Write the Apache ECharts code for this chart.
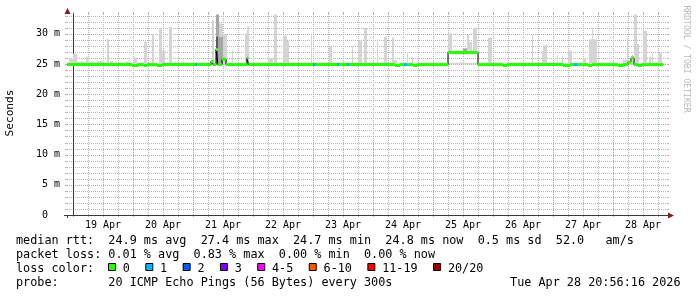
<!DOCTYPE html>
<html><head><meta charset="utf-8">
<script src="https://cdn.jsdelivr.net/npm/echarts@6/dist/echarts.min.js"></script>
<style>html,body{margin:0;padding:0;background:#fff}#c{width:697px;height:297px}</style>
</head><body><div id="c"></div>
<script>
// ---- data (x = hours since 19 Apr 00:00, y = milliseconds) ----
const dayLabels = ['19 Apr','20 Apr','21 Apr','22 Apr','23 Apr','24 Apr','25 Apr','26 Apr','27 Apr','28 Apr'];
const yTickValues = [0, 5, 10, 15, 20, 25, 30];

// median rtt, step values: [start hour, value]
const medianSteps = [
  [-2.4, 24.9],
  [23.6, 24.75], [25.6, 24.9],
  [28.4, 24.75], [29.6, 24.9],
  [33.6, 24.75], [35.6, 24.9],
  [55.2, 25.4], [56, 24.9],
  [57.2, 27.4], [58, 24.9],
  [59.6, 25.8], [61.2, 24.9],
  [69.6, 26.0], [70.2, 24.9],
  [128.8, 24.75], [130.8, 24.9],
  [136, 24.75], [137.6, 24.9],
  [150, 26.9], [162, 24.9],
  [172, 24.75], [173.6, 24.9],
  [196, 24.75], [198.8, 24.9],
  [206, 24.75], [207.6, 24.9],
  [218, 24.75], [220, 24.9],
  [222, 25.3], [223.2, 26.0], [224.4, 24.9],
  [226, 24.75], [227.6, 24.9],
  [236, 24.9]
];

// periods with 1 lost ping: [start, end, median]
const lossOneSegments = [
  [48.8, 49.6, 24.9], [96, 97.2, 24.9], [105.6, 106.4, 24.9],
  [109.6, 110.4, 24.9], [132.4, 133.6, 24.9], [200.4, 201.6, 24.9]
];

// smoke (ping spread): [start, end, low, high]
const smokeLight = [
  [-2.4, 236, 24.9, 25.2],
  [-1.6, 0, 24.9, 25.9], [0, 1.6, 24.9, 26.7], [1.6, 5.2, 24.9, 25.4], [5.2, 6.0, 24.9, 26.2],
  [6, 10, 24.9, 25.4], [10, 12, 24.9, 25.5], [13.6, 14.4, 24.9, 29.1], [14.8, 16, 24.9, 25.5],
  [20.8, 22.8, 24.9, 25.4], [24.4, 25.6, 24.9, 26.1], [28.4, 29.6, 24.9, 28.7],
  [31.6, 32.4, 24.9, 30.0], [34.4, 35.6, 24.9, 31.0], [35.6, 36.8, 24.9, 27.2],
  [38.4, 39.6, 24.9, 31.1], [43.6, 44.4, 24.9, 25.4], [55.6, 56.4, 24.9, 32.3],
  [58.4, 60, 24.9, 31.7], [60, 61.6, 24.9, 30.0], [63.6, 64, 24.9, 27.3],
  [68.8, 69.6, 24.9, 30.1], [69.6, 70.4, 24.9, 31.2], [78, 80, 24.9, 26.0],
  [80.4, 81.6, 24.9, 33.2], [84, 85.6, 24.9, 29.7], [85.6, 86.4, 24.9, 28.8],
  [95.2, 95.6, 24.9, 30.1], [102.4, 103.6, 24.9, 28.0], [111.6, 112, 24.9, 27.9],
  [114, 115.6, 24.9, 28.9], [116.4, 117.6, 24.9, 31.0], [121.6, 122, 24.9, 29.1],
  [124.4, 125.6, 24.9, 29.5], [127.6, 128.4, 24.9, 29.4], [128.4, 129.6, 24.9, 25.6],
  [133.6, 134, 24.9, 27.0], [135.6, 136, 24.9, 26.1],
  [150, 151.6, 26.9, 30.1], [150, 162, 26.9, 27.2], [157.6, 158.4, 26.9, 29.8],
  [158.4, 159.6, 26.9, 28.7], [160, 161.6, 26.9, 31.0],
  [166, 167.6, 24.9, 29.3], [183.6, 184, 24.9, 29.8], [187.6, 188, 24.9, 27.2],
  [188, 189.6, 24.9, 28.1], [193.6, 194, 24.9, 26.4], [195.6, 196, 24.9, 26.4],
  [198, 199.6, 24.9, 27.2], [204, 205.2, 24.9, 25.9], [206.4, 207.6, 24.9, 29.1],
  [207.6, 208, 24.9, 31.0], [208, 209.6, 24.9, 29.1], [211.6, 212, 24.9, 25.3],
  [220, 221.6, 24.9, 25.7], [221.6, 222, 24.9, 29.3], [223.6, 224, 24.9, 26.6],
  [224.4, 225.6, 24.9, 33.2], [225.6, 226.4, 24.9, 28.3], [228, 229.6, 24.9, 30.5],
  [230.4, 231.2, 24.9, 26.2], [231.6, 232, 24.9, 26.8], [234, 235.6, 24.9, 26.8]
];
const smokeMid = [
  [57.2, 58.4, 24.9, 33.2], [58.4, 60, 24.9, 29.5], [156, 157.6, 26.9, 27.6]
];
const smokeDark = [
  [57.2, 58, 25.5, 29.5]
];

const rttValues = ['24.9', '27.4', '24.7', '24.8'];
const lossValues = ['0.01', '0.83', '0.00', '0.00'];
const statNames = ['avg', 'max', 'min', 'now'];
const rttSd = '0.5';
const rttAms = '52.0';
const lossLabels = ['0', '1', '2', '3', '4-5', '6-10', '11-19', '20/20'];
const lossColors = ['#26ff00', '#00b8ff', '#0059ff', '#7e00ff', '#ff00ff', '#ff5500', '#ff0000', '#a10000'];
const probeText = '20 ICMP Echo Pings (56 Bytes) every 300s';
const stampText = 'Tue Apr 28 20:56:16 2026';

// ---- chart ----
const FONT = 'DejaVu Sans Mono';
const X_MIN = -2.4, X_MAX = 237.6, Y_MAX = 33.28;
const labelHours = dayLabels.map((d, i) => 12 + 24 * i);
// grid line items: [hour, 0, major?] and [xmin, value, major?]
const vGrid = [];
for (let h = 0; h <= X_MAX; h += 6) vGrid.push([h, 0, h % 24 === 0 ? 1 : 0]);
const hGrid = [];
for (let v = 1; v <= Y_MAX; v++) hGrid.push([X_MIN, v, v % 5 === 0 ? 1 : 0]);

const GRIDC = '#b6b6b6', MGRIDC = '#e89292', AXISC = '#3a3a3a';

function rectItem(color) {
  return function (params, api) {
    const p0 = api.coord([api.value(0), api.value(3)]);
    const p1 = api.coord([api.value(1), api.value(2)]);
    return { type: 'rect', shape: { x: p0[0], y: p0[1], width: p1[0] - p0[0], height: p1[1] - p0[1] },
      style: { fill: color } };
  };
}
function segItem(color) {
  return function (params, api) {
    const a = api.coord([api.value(0), api.value(2)]);
    const b = api.coord([api.value(1), api.value(2)]);
    return { type: 'line', shape: { x1: a[0], y1: a[1], x2: b[0], y2: b[1] },
      style: { stroke: color, lineWidth: 3 } };
  };
}
function vGridItem(params, api) {
  const cs = params.coordSys;
  const x = Math.round(api.coord([api.value(0), 0])[0]) + 0.5;
  const c = api.value(2) ? MGRIDC : GRIDC;
  const top = cs.y, bot = cs.y + cs.height;
  return { type: 'group', children: [
    { type: 'line', shape: { x1: x, y1: top, x2: x, y2: bot }, style: { stroke: c, lineWidth: 1, lineDash: [1, 1] } },
    { type: 'line', shape: { x1: x, y1: top - 2, x2: x, y2: top }, style: { stroke: c, lineWidth: 1 } },
    { type: 'line', shape: { x1: x, y1: bot, x2: x, y2: bot + 2 }, style: { stroke: c, lineWidth: 1 } }
  ] };
}
function hGridItem(params, api) {
  const cs = params.coordSys;
  const y = Math.round(api.coord([X_MIN, api.value(1)])[1]) + 0.5;
  const c = api.value(2) ? MGRIDC : GRIDC;
  const l = cs.x, r = cs.x + cs.width;
  return { type: 'group', children: [
    { type: 'line', shape: { x1: l, y1: y, x2: r, y2: y }, style: { stroke: c, lineWidth: 1, lineDash: [1, 1] } },
    { type: 'line', shape: { x1: l - 2, y1: y, x2: l, y2: y }, style: { stroke: c, lineWidth: 1 } },
    { type: 'line', shape: { x1: r, y1: y, x2: r + 2, y2: y }, style: { stroke: c, lineWidth: 1 } }
  ] };
}
const medianSegs = medianSteps.slice(0, -1).map((p, i) => [p[0], medianSteps[i + 1][0], p[1]]);

// legend graphics
const LFS = 11.8, CW = LFS * 0.6021;
const rowY = [241, 255, 269, 283];
const legendFont = LFS + 'px "' + FONT + '"';
function txt(s, x, y, align) {
  return { type: 'text', x: x, y: y, silent: true,
    style: { text: s, font: legendFont, fill: '#000', align: align || 'left', verticalAlign: 'middle',
      textAlign: align || 'left', textVerticalAlign: 'middle' } };
}
const row1 = 'median rtt:  ' + rttValues.map((v, i) => v + ' ms ' + statNames[i]).join('  ') +
  '  ' + rttSd + ' ms sd  ' + rttAms + '   am/s';
const row2 = 'packet loss: ' + lossValues.map((v, i) => v + ' % ' + statNames[i]).join('  ');
const graphics = [
  txt(row1, 16, rowY[0]), txt(row2, 16, rowY[1]), txt('loss color:', 16, rowY[2]),
  txt('probe:       ' + probeText, 16, rowY[3]), txt(stampText, 680.5, rowY[3], 'right')
];
let lx = 108;
lossLabels.forEach((lab, i) => {
  graphics.push({ type: 'rect', silent: true, shape: { x: lx + 0.5, y: 263.5, width: 7, height: 7 },
    style: { fill: lossColors[i], stroke: '#000', lineWidth: 1 } });
  graphics.push(txt(lab, lx + 14.8, rowY[2]));
  lx = lx + 14.8 + lab.length * CW + 15.4;
});
graphics.push({ type: 'text', x: 10, y: 113, rotation: Math.PI / 2, silent: true,
  style: { text: 'Seconds', font: '11.2px "' + FONT + '"', fill: '#000', align: 'center', verticalAlign: 'middle',
    textAlign: 'center', textVerticalAlign: 'middle' } });
graphics.push({ type: 'text', x: 686, y: 59, rotation: -Math.PI / 2, silent: true,
  style: { text: 'RRDTOOL / TOBI OETIKER', font: '8.1px "' + FONT + '"', fill: '#b8b8b8', align: 'center',
    verticalAlign: 'middle', textAlign: 'center', textVerticalAlign: 'middle' } });
// axis extensions and arrows
graphics.push({ type: 'line', silent: true, z: 10, shape: { x1: 667, y1: 215.5, x2: 669, y2: 215.5 }, style: { stroke: AXISC, lineWidth: 1 } });
graphics.push({ type: 'line', silent: true, z: 10, shape: { x1: 64, y1: 215.5, x2: 67, y2: 215.5 }, style: { stroke: AXISC, lineWidth: 1 } });
graphics.push({ type: 'line', silent: true, z: 10, shape: { x1: 67.5, y1: 215, x2: 67.5, y2: 218 }, style: { stroke: AXISC, lineWidth: 1 } });
graphics.push({ type: 'line', silent: true, z: 10, shape: { x1: 67.5, y1: 12, x2: 67.5, y2: 14 }, style: { stroke: AXISC, lineWidth: 1 } });
graphics.push({ type: 'polygon', silent: true, z: 10, shape: { points: [[668, 212.5], [674, 215.5], [668, 218.5]] }, style: { fill: '#801f1f' } });
graphics.push({ type: 'polygon', silent: true, z: 10, shape: { points: [[64.5, 14], [67.5, 8], [70.5, 14]] }, style: { fill: '#801f1f' } });

const chart = echarts.init(document.getElementById('c'), null, { renderer: 'canvas' });
chart.setOption({
  animation: false,
  backgroundColor: '#ffffff',
  grid: { left: 67, top: 14, width: 600, height: 201 },
  xAxis: {
    type: 'value', min: X_MIN, max: X_MAX,
    axisLine: { show: true, lineStyle: { color: AXISC, width: 1 } },
    axisTick: { show: false },
    axisLabel: { show: true, customValues: labelHours, margin: 5, fontFamily: FONT, fontSize: 10, color: '#000',
      formatter: v => dayLabels[Math.round((v - 12) / 24)] },
    splitLine: { show: false }
  },
  yAxis: {
    type: 'value', min: 0, max: Y_MAX,
    axisLine: { show: true, lineStyle: { color: AXISC, width: 1 } },
    axisTick: { show: false },
    axisLabel: { show: true, customValues: yTickValues, margin: 7, fontFamily: FONT, fontSize: 10, color: '#000',
      formatter: v => (v === 0 ? '0  ' : v + ' m') },
    splitLine: { show: false }
  },
  series: [
    { type: 'custom', name: 'vgrid', z: 0, silent: true, clip: false, renderItem: vGridItem, data: vGrid, encode: { x: 0, y: 1 } },
    { type: 'custom', name: 'hgrid', z: 0, silent: true, clip: false, renderItem: hGridItem, data: hGrid, encode: { x: 0, y: 1 } },
    { type: 'custom', name: 'smoke', z: 1, clip: true, renderItem: rectItem('#d4d4d4'), data: smokeLight, encode: { x: [0, 1], y: [2, 3] } },
    { type: 'custom', name: 'smoke2', z: 2, clip: true, renderItem: rectItem('#a6a6a6'), data: smokeMid, encode: { x: [0, 1], y: [2, 3] } },
    { type: 'custom', name: 'smoke3', z: 3, clip: true, renderItem: rectItem('#5a5a5a'), data: smokeDark, encode: { x: [0, 1], y: [2, 3] } },
    { type: 'line', name: 'median', z: 4, data: medianSteps, step: 'end', showSymbol: false, symbol: 'none',
      lineStyle: { color: '#000', width: 1 } },
    { type: 'custom', name: 'loss0', z: 6, clip: true, renderItem: segItem(lossColors[0]), data: medianSegs, encode: { x: [0, 1], y: 2 } },
    { type: 'custom', name: 'loss1', z: 7, clip: true, renderItem: segItem(lossColors[1]), data: lossOneSegments, encode: { x: [0, 1], y: 2 } }
  ],
  graphic: graphics
});
</script>
</body></html>
